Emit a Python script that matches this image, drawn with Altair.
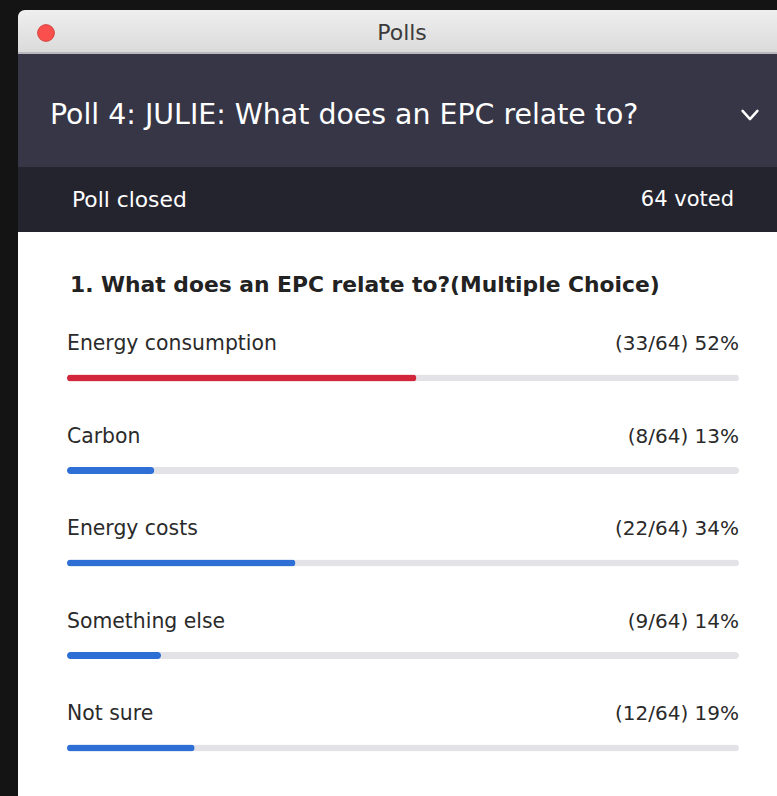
import altair as alt
import pandas as pd

# ---- data ----
options = ["Energy consumption", "Carbon", "Energy costs", "Something else", "Not sure"]
votes = [33, 8, 22, 9, 12]
total_votes = 64
percents = [52, 13, 34, 14, 19]
winner = "Energy consumption"

window_title = "Polls"
poll_title = "Poll 4: JULIE: What does an EPC relate to?"
status_text = "Poll closed"
voted_text = f"{total_votes} voted"
question_text = "1. What does an EPC relate to?(Multiple Choice)"

W, H = 777, 796
FONT = "DejaVu Sans"

df = pd.DataFrame({
    "option": options,
    "votes": votes,
    "pct": percents,
})
df["label"] = [f"({v}/{total_votes}) {p}%" for v, p in zip(votes, percents)]
df["full"] = 100
df["color"] = ["#d2263a" if o == winner else "#2e6fd6" for o in options]

one = alt.Data(values=[{"k": 0}])


def rect(x, x2, y, y2, **kw):
    return alt.Chart(one).mark_rect(**kw).encode(
        x=alt.value(x), x2=alt.value(x2), y=alt.value(y), y2=alt.value(y2)
    )


def label(text, x, y, **kw):
    return alt.Chart(one).mark_text(text=text, font=FONT, baseline="middle", **kw).encode(
        x=alt.value(x), y=alt.value(y)
    )


# ---- window chrome ----
title_bar = rect(18, W + 10, 10, 53,
                 fill=alt.LinearGradient(gradient="linear", x1=0, x2=0, y1=0, y2=1,
                                         stops=[alt.GradientStop(color="#efefef", offset=0),
                                                alt.GradientStop(color="#dadada", offset=1)]),
                 cornerRadiusTopLeft=7)
title_line = rect(18, W, 52, 54, fill="#b9b9bd")
header = rect(18, W, 54, 167, fill="#363647")
subheader = rect(18, W, 167, 232, fill="#24242f")
body = rect(18, W, 232, H, fill="#ffffff")

close_btn = alt.Chart(one).mark_point(filled=True, shape="circle", size=280,
                                       color="#f9504d", stroke="#d63f3b", strokeWidth=1,
                                       opacity=1).encode(
    x=alt.value(46), y=alt.value(33))

chevron = alt.Chart(one).mark_point(
    shape="M-1,-0.55L0,0.55L1,-0.55", filled=False, size=220,
    stroke="#ffffff", strokeWidth=2.5, strokeCap="round", strokeJoin="round", opacity=1
).encode(x=alt.value(750), y=alt.value(115))

t_window = label(window_title, 402, 33, fontSize=22, color="#3a3a3a", align="center")
t_poll = label(poll_title, 50, 115, fontSize=28.4, color="#ffffff", align="left")
t_status = label(status_text, 72, 200, fontSize=21.8, color="#ffffff", align="left")
t_voted = label(voted_text, 734, 200, fontSize=21, color="#ffffff", align="right")
t_question = label(question_text, 70, 285, fontSize=21.8, fontWeight="bold",
                   color="#222222", align="left")

# ---- result bars ----
xs = alt.Scale(domain=[0, 100], range=[67, 739])
ys = alt.Scale(type="point", domain=options, range=[378, 748], padding=0)

base = alt.Chart(df)

track = base.mark_bar(size=7, cornerRadius=3.5, color="#e3e3e7").encode(
    x=alt.X("full:Q", scale=xs, axis=None),
    y=alt.Y("option:N", scale=ys, axis=None),
)
fill = base.mark_bar(size=7, cornerRadius=3.5).encode(
    x=alt.X("pct:Q", scale=xs, axis=None),
    y=alt.Y("option:N", scale=ys, axis=None),
    color=alt.Color("color:N", scale=None),
)
opt_text = base.mark_text(font=FONT, fontSize=20.4, color="#2a2a2a", align="left",
                          baseline="middle", dy=-34).encode(
    x=alt.value(67),
    y=alt.Y("option:N", scale=ys, axis=None),
    text="option:N",
)
pct_text = base.mark_text(font=FONT, fontSize=20, color="#2a2a2a", align="right",
                          baseline="middle", dy=-34).encode(
    x=alt.value(739),
    y=alt.Y("option:N", scale=ys, axis=None),
    text="label:N",
)

chart = alt.layer(
    title_bar, title_line, header, subheader, body, close_btn, chevron,
    t_window, t_poll, t_status, t_voted, t_question,
    track, fill, opt_text, pct_text,
).properties(
    width=W, height=H, padding=0, autosize=alt.AutoSizeParams(type="none"),
    background="#141414",
).configure_view(stroke=None, fill=None)

chart.save("out.html", embed_options={"renderer": "svg", "actions": False})
